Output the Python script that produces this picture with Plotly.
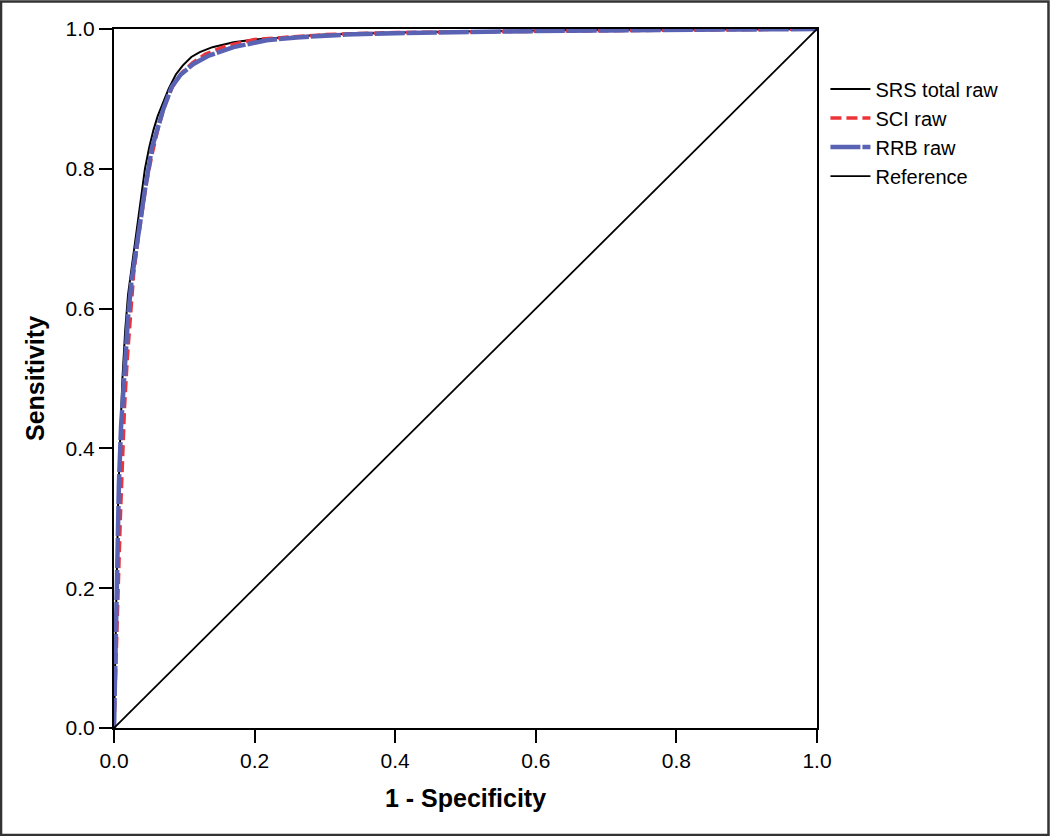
import plotly.graph_objects as go

# ROC curve data (1 - specificity, sensitivity)
srs_fpr = [0, 0.002, 0.004, 0.006, 0.009, 0.012, 0.016, 0.020, 0.024, 0.028, 0.033, 0.038,
           0.044, 0.050, 0.056, 0.062, 0.070, 0.078, 0.088, 0.098, 0.110, 0.122, 0.140,
           0.170, 0.200, 0.250, 0.300, 0.400, 0.500, 0.600, 0.700, 0.800, 0.900, 1.0]
srs_tpr = [0, 0.12, 0.25, 0.33, 0.42, 0.50, 0.57, 0.62, 0.65, 0.68, 0.72, 0.76,
           0.80, 0.83, 0.855, 0.875, 0.895, 0.915, 0.935, 0.948, 0.960, 0.967, 0.974,
           0.981, 0.985, 0.989, 0.992, 0.995, 0.997, 0.998, 0.999, 0.9995, 1.0, 1.0]

sci_fpr = [0, 0.001, 0.003, 0.006, 0.009, 0.012, 0.015, 0.019, 0.023, 0.028, 0.033, 0.039,
           0.046, 0.054, 0.062, 0.072, 0.083, 0.096, 0.112, 0.130, 0.160, 0.200, 0.250,
           0.300, 0.400, 0.500, 0.600, 0.700, 0.800, 0.900, 1.0]
sci_tpr = [0, 0.04, 0.10, 0.20, 0.30, 0.38, 0.46, 0.53, 0.59, 0.65, 0.69, 0.73,
           0.78, 0.82, 0.855, 0.89, 0.917, 0.937, 0.952, 0.964, 0.976, 0.985, 0.989,
           0.992, 0.995, 0.996, 0.997, 0.998, 0.999, 0.9995, 1.0]

rrb_fpr = [0, 0.001, 0.003, 0.005, 0.007, 0.010, 0.013, 0.017, 0.020, 0.025, 0.031, 0.037,
           0.044, 0.054, 0.061, 0.070, 0.082, 0.095, 0.113, 0.135, 0.170, 0.217, 0.260,
           0.330, 0.400, 0.500, 0.600, 0.700, 0.800, 0.900, 1.0]
rrb_tpr = [0, 0.05, 0.18, 0.28, 0.35, 0.43, 0.48, 0.54, 0.588, 0.64, 0.683, 0.73,
           0.77, 0.83, 0.855, 0.885, 0.917, 0.935, 0.950, 0.962, 0.974, 0.984, 0.988,
           0.992, 0.994, 0.996, 0.997, 0.998, 0.999, 0.9995, 1.0]

ref_x = [0, 1]
ref_y = [0, 1]

tick_vals = [0, 0.2, 0.4, 0.6, 0.8, 1.0]
tick_text = ["0.0", "0.2", "0.4", "0.6", "0.8", "1.0"]

fig = go.Figure()
fig.add_trace(go.Scatter(x=srs_fpr, y=srs_tpr, mode="lines", name="SRS total raw",
                         line=dict(color="black", width=2)))
fig.add_trace(go.Scatter(x=sci_fpr, y=sci_tpr, mode="lines", name="SCI raw",
                         line=dict(color="#ee3338", width=3.5, dash="11px,5px")))
fig.add_trace(go.Scatter(x=rrb_fpr, y=rrb_tpr, mode="lines", name="RRB raw",
                         line=dict(color="#5a62b3", width=4.5, dash="30px,2px")))
fig.add_trace(go.Scatter(x=ref_x, y=ref_y, mode="lines", name="Reference",
                         line=dict(color="black", width=1.8)))

axis_common = dict(range=[0, 1], tickvals=tick_vals, ticktext=tick_text,
                   showgrid=False, zeroline=False, showline=True, linecolor="black",
                   linewidth=2, mirror=True, ticks="outside", ticklen=13, tickwidth=2,
                   tickcolor="black", tickfont=dict(family="Liberation Sans, Arial", size=21,
                                                     color="black"))

fig.update_layout(
    width=1050, height=836,
    margin=dict(l=114, r=233, t=29, b=108),
    paper_bgcolor="white", plot_bgcolor="white",
    xaxis=dict(**axis_common,
               title=dict(text="<b>1 - Specificity</b>", standoff=18,
                          font=dict(family="Liberation Sans, Arial", size=25, color="black"))),
    yaxis=dict(**axis_common,
               title=dict(text="<b>Sensitivity</b>", standoff=14,
                          font=dict(family="Liberation Sans, Arial", size=25, color="black"))),
    legend=dict(x=1.012, y=0.942, xanchor="left", yanchor="top",
                font=dict(family="Liberation Sans, Arial", size=20, color="black"),
                bgcolor="rgba(0,0,0,0)", itemwidth=40, tracegroupgap=0),
    shapes=[dict(type="rect", xref="paper", yref="paper",
                 x0=-0.1607, x1=1.3293, y0=-0.153, y1=1.0393,
                 line=dict(color="#333333", width=2.5), fillcolor="rgba(0,0,0,0)")],
)

fig.write_html("out.html", config={"displayModeBar": False},
               post_script="document.body.style.margin='0';document.body.style.overflow='hidden';")
